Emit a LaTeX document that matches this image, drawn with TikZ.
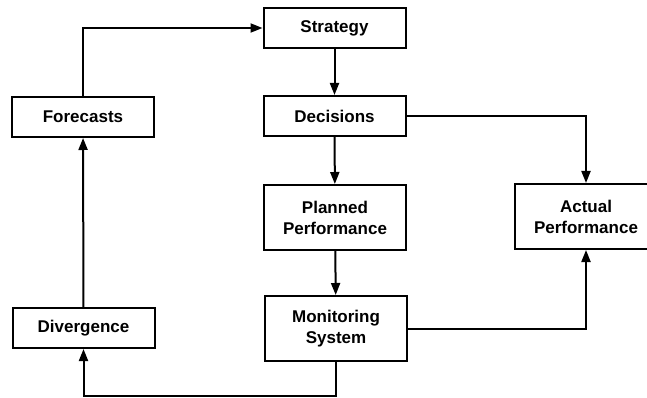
\documentclass[tikz,border=0pt]{standalone}
\usepackage{fontspec}
\setmainfont{Liberation Sans}
\usetikzlibrary{arrows.meta}
\begin{document}
\begin{tikzpicture}[x=1pt,y=-1pt,
  box/.style={draw, line width=2pt, minimum width=142pt, inner sep=0pt, align=center,
    font=\bfseries\fontsize{17}{21}\selectfont},
  onebox/.style={box, minimum height=40pt},
  twobox/.style={box, minimum height=65pt},
  conn/.style={line width=2pt, -{Triangle[length=12pt,width=9pt]}}]
\clip (0,0) rectangle (647,398);
\fill[white] (0,0) rectangle (647,398);
\node[onebox] (strat) at (334.5,28) {Strategy};
\node[onebox] (dec) at (334.5,116) {Decisions};
\node[onebox] (fore) at (83,117) {Forecasts};
\node[twobox] (plan) at (335,217.5) {Planned\\Performance};
\node[twobox] (mon) at (336,328.5) {Monitoring\\System};
\node[onebox] (div) at (83.5,328) {Divergence};
\node[twobox] (act) at (586,216.5) {Actual\\Performance};
\coordinate (low) at (336,396);
\draw[conn] (fore.north) |- (strat.west);
\draw[conn] (strat) -- (dec);
\draw[conn] (dec.east) -| (act.north);
\draw[conn] (dec) -- (plan);
\draw[conn] (plan) -- (mon);
\draw[conn] (mon.east) -| (act.south);
\draw[conn] (mon.south) -- (low) -| (div.south);
\draw[conn] (div) -- (fore);
\end{tikzpicture}
\end{document}
